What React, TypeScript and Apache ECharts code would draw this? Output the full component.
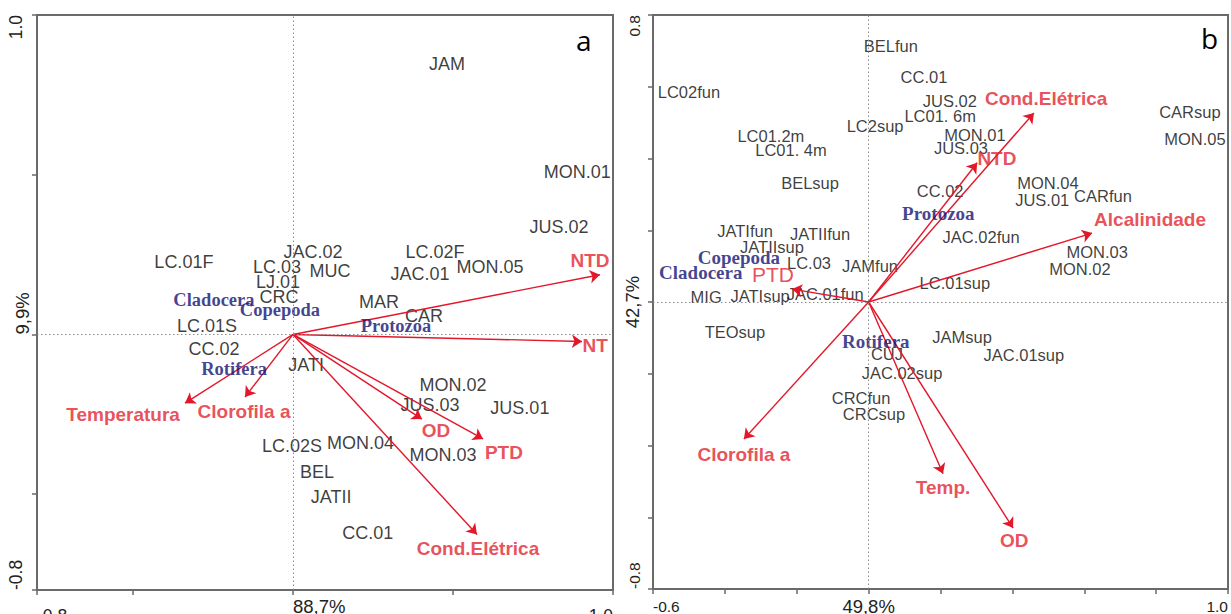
import React, { useEffect, useRef } from 'react';
import * as echarts from 'echarts';

// ---------- Panel a ----------
const sitesA: [string, number, number][] = [
  ['JAM', 0.481, 0.847],
  ['MON.01', 0.888, 0.508],
  ['JUS.02', 0.831, 0.336],
  ['LC.02F', 0.444, 0.259],
  ['JAC.01', 0.397, 0.19],
  ['MON.05', 0.616, 0.212],
  ['MAR', 0.269, 0.103],
  ['CAR', 0.409, 0.059],
  ['JAC.02', 0.0625, 0.259],
  ['MUC', 0.116, 0.199],
  ['LC.03', -0.05, 0.212],
  ['LJ.01', -0.047, 0.165],
  ['CRC', -0.044, 0.118],
  ['LC.01F', -0.341, 0.227],
  ['LC.01S', -0.269, 0.028],
  ['CC.02', -0.247, -0.047],
  ['JATI', 0.041, -0.097],
  ['MON.02', 0.5, -0.159],
  ['JUS.03', 0.428, -0.221],
  ['JUS.01', 0.709, -0.23],
  ['MON.03', 0.469, -0.377],
  ['LC.02S', -0.003, -0.349],
  ['MON.04', 0.211, -0.34],
  ['BEL', 0.075, -0.43],
  ['JATII', 0.119, -0.508],
  ['CC.01', 0.234, -0.62],
];
const speciesA: [string, number, number][] = [
  ['Cladocera', -0.247, 0.109],
  ['Copepoda', -0.041, 0.075],
  ['Protozoa', 0.322, 0.025],
  ['Rotifera', -0.184, -0.109],
];
const envA: [string, number, number][] = [
  ['NTD', 0.959, 0.187],
  ['NT', 0.903, -0.022],
  ['OD', 0.403, -0.265],
  ['PTD', 0.594, -0.327],
  ['Cond.Elétrica', 0.575, -0.626],
  ['Temperatura', -0.3375, -0.215],
  ['Clorofila a', -0.15, -0.196],
];
const envLabelAtA: [number, number][] = [
  [0.928, 0.231], [0.944, -0.034], [0.447, -0.302], [0.659, -0.371],
  [0.578, -0.67], [-0.531, -0.252], [-0.153, -0.24],
];
const xTicksA = [-0.8, -0.5, 0, 0.5, 1.0];
const yTicksA = [-0.8, -0.5, 0, 0.5, 1.0];
const xLabelValsA = [-0.8, 0, 1.0];
const xLabelTextA = ['-0.8', '88,7%', '1.0'];
const yLabelValsA = [-0.8, 0, 1.0];
const yLabelTextA = ['-0.8', '9,9%', '1.0'];

// ---------- Panel b ----------
const sitesB: [string, number, number][] = [
  ['BELfun', 0.062, 0.714],
  ['CC.01', 0.154, 0.627],
  ['LC02fun', -0.5, 0.585],
  ['JUS.02', 0.226, 0.56],
  ['LC01. 6m', 0.199, 0.518],
  ['LC2sup', 0.018, 0.49],
  ['MON.01', 0.296, 0.465],
  ['JUS.03', 0.257, 0.429],
  ['LC01.2m', -0.272, 0.463],
  ['LC01. 4m', -0.216, 0.424],
  ['BELsup', -0.163, 0.332],
  ['CC.02', 0.199, 0.309],
  ['MON.04', 0.499, 0.332],
  ['JUS.01', 0.483, 0.284],
  ['CARfun', 0.652, 0.295],
  ['CARsup', 0.894, 0.53],
  ['MON.05', 0.908, 0.454],
  ['JAC.02fun', 0.313, 0.181],
  ['MON.03', 0.636, 0.139],
  ['MON.02', 0.588, 0.092],
  ['LC.01sup', 0.24, 0.053],
  ['JATIfun', -0.344, 0.198],
  ['JATIIfun', -0.135, 0.19],
  ['JATIIsup', -0.269, 0.153],
  ['LC.03', -0.166, 0.109],
  ['JAMfun', 0.004, 0.1],
  ['MIG', -0.452, 0.014],
  ['JATIsup', -0.302, 0.017],
  ['JAC.01fun', -0.121, 0.022],
  ['TEOsup', -0.372, -0.084],
  ['JAMsup', 0.26, -0.098],
  ['JAC.01sup', 0.432, -0.148],
  ['CUJ', 0.051, -0.145],
  ['JAC.02sup', 0.093, -0.198],
  ['CRCfun', -0.021, -0.268],
  ['CRCsup', 0.015, -0.312],
];
const speciesB: [string, number, number][] = [
  ['Protozoa', 0.194, 0.248],
  ['Copepoda', -0.361, 0.123],
  ['Cladocera', -0.467, 0.081],
  ['Rotifera', 0.02, -0.111],
];
const envB: [string, number, number][] = [
  ['Cond.Elétrica', 0.46, 0.527],
  ['NTD', 0.302, 0.388],
  ['Alcalinidade', 0.622, 0.192],
  ['PTD', -0.213, 0.036],
  ['Clorofila a', -0.347, -0.382],
  ['Temp.', 0.207, -0.479],
  ['OD', 0.402, -0.63],
];
const envLabelAtB: [number, number][] = [
  [0.494, 0.566], [0.357, 0.399], [0.783, 0.229], [-0.266, 0.078],
  [-0.347, -0.424], [0.207, -0.516], [0.405, -0.666],
];
const xTicksB = [-0.6, -0.4, -0.2, 0, 0.2, 0.4, 0.6, 0.8, 1.0];
const yTicksB = [-0.8, -0.6, -0.4, -0.2, 0, 0.2, 0.4, 0.6, 0.8];
const xLabelValsB = [-0.6, 0, 1.0];
const xLabelTextB = ['-0.6', '49,8%', '1.0'];
const yLabelValsB = [-0.8, 0, 0.8];
const yLabelTextB = ['-0.8', '42,7%', '0.8'];

// ---------- styles ----------
const SANS = '"Liberation Sans", Arial, sans-serif';
const SERIF = '"Liberation Serif", "Times New Roman", serif';
const AXIS = '#6a6a6a';
const RED_LINE = '#e3162a';
const RED_TEXT = '#e3242f';
const BLUE = '#121275';
const INK = '#0a0a0a';

function pick(vals: number[], texts: string[], v: number) {
  const i = vals.findIndex((u) => Math.abs(u - v) < 1e-9);
  return i < 0 ? '' : texts[i];
}

function makeAxis(
  dim: 'x' | 'y',
  grid: number,
  min: number,
  max: number,
  ticks: number[],
  labelVals: number[],
  labelTexts: string[],
  cfg: { align: string; alignMin?: string; alignMax?: string; margin: number; edgeSize: number; pctSize: number; edgePad: number[] }
) {
  const label: any = {
    customValues: labelVals,
    formatter: (v: number) => {
      const t = pick(labelVals, labelTexts, v);
      if (!t) return '';
      return t.indexOf('%') >= 0 ? `{p|${t}}` : `{e|${t}}`;
    },
    margin: cfg.margin,
    align: cfg.align,
    color: '#222',
    fontFamily: SANS,
    rich: {
      p: { fontSize: cfg.pctSize, fontFamily: SANS, color: '#222' },
      e: { fontSize: cfg.edgeSize, fontFamily: SANS, color: '#222', padding: cfg.edgePad },
    },
  };
  if (cfg.alignMin) label.alignMinLabel = cfg.alignMin;
  if (cfg.alignMax) label.alignMaxLabel = cfg.alignMax;
  if (dim === 'y') label.rotate = 90;
  return {
    type: 'value',
    gridIndex: grid,
    min,
    max,
    axisLine: { show: true, onZero: false, lineStyle: { color: AXIS, width: 2 } },
    axisTick: { show: true, customValues: ticks, length: 5, inside: false, lineStyle: { color: AXIS, width: 1.5 } },
    splitLine: { show: false },
    axisLabel: label,
  };
}

function siteSeries(data: [string, number, number][], gi: number, size: number) {
  return {
    type: 'scatter',
    xAxisIndex: gi,
    yAxisIndex: gi,
    symbolSize: 0,
    silent: true,
    itemStyle: { color: 'rgba(0,0,0,0)' },
    data: data.map(([n, x, y]) => ({ name: n, value: [x, y] })),
    label: { show: true, position: 'inside', formatter: '{b}', color: INK, fontSize: size, fontFamily: SANS },
    markLine: {
      silent: true,
      symbol: ['none', 'none'],
      label: { show: false },
      lineStyle: { type: [1.5, 2.5], color: '#8a8a8a', width: 1 },
      data: [{ xAxis: 0 }, { yAxis: 0 }],
    },
    z: 2,
  };
}

function speciesSeries(data: [string, number, number][], gi: number, size: number) {
  return {
    type: 'scatter',
    xAxisIndex: gi,
    yAxisIndex: gi,
    symbolSize: 0,
    silent: true,
    itemStyle: { color: 'rgba(0,0,0,0)' },
    data: data.map(([n, x, y]) => ({ name: n, value: [x, y] })),
    label: { show: true, position: 'inside', formatter: '{b}', color: BLUE, fontSize: size, fontWeight: 'bold', fontFamily: SERIF },
    z: 4,
  };
}

function arrowSeries(data: [string, number, number][], gi: number) {
  return {
    type: 'lines',
    coordinateSystem: 'cartesian2d',
    xAxisIndex: gi,
    yAxisIndex: gi,
    silent: true,
    symbol: ['none', 'arrow'],
    symbolSize: 10,
    lineStyle: { color: RED_LINE, width: 1.4, opacity: 1, curveness: 0 },
    data: data.map(([, x, y]) => ({ coords: [[0, 0], [x, y]] })),
    z: 3,
  };
}

function envLabelSeries(data: [string, number, number][], at: [number, number][], gi: number, special?: Record<string, any>) {
  return {
    type: 'scatter',
    xAxisIndex: gi,
    yAxisIndex: gi,
    symbolSize: 0,
    silent: true,
    itemStyle: { color: 'rgba(0,0,0,0)' },
    data: data.map(([n], i) => {
      const item: any = { name: n, value: at[i] };
      if (special && special[n]) item.label = special[n];
      return item;
    }),
    label: { show: true, position: 'inside', formatter: '{b}', color: RED_TEXT, fontSize: 19, fontWeight: 'bold', fontFamily: SANS },
    z: 5,
  };
}

export default function App() {
  const ref = useRef<HTMLDivElement>(null);
  useEffect(() => {
    if (!ref.current) return;
    const chart = echarts.init(ref.current, null, { renderer: 'svg' });
    const option: any = {
      animation: false,
      backgroundColor: '#ffffff',
      grid: [
        { left: 37, top: 15, width: 576, height: 575, show: true, borderColor: AXIS, borderWidth: 2, backgroundColor: 'transparent', outerBoundsMode: 'none', containLabel: false },
        { left: 653, top: 15, width: 575, height: 574, show: true, borderColor: AXIS, borderWidth: 2, backgroundColor: 'transparent', outerBoundsMode: 'none', containLabel: false },
      ],
      xAxis: [
        makeAxis('x', 0, -0.8, 1.0, xTicksA, xLabelValsA, xLabelTextA, { align: 'left', alignMax: 'right', margin: 7, edgeSize: 17.5, pctSize: 18.5, edgePad: [10, 0, 0, 0] }),
        makeAxis('x', 1, -0.6, 1.0, xTicksB, xLabelValsB, xLabelTextB, { align: 'center', alignMin: 'left', alignMax: 'right', margin: 8, edgeSize: 15.5, pctSize: 18.5, edgePad: [1, 0, 0, 0] }),
      ],
      yAxis: [
        makeAxis('y', 0, -0.8, 1.0, yTicksA, yLabelValsA, yLabelTextA, { align: 'left', alignMax: 'right', margin: 5, edgeSize: 17.5, pctSize: 18.5, edgePad: [0, 0, 7, 0] }),
        makeAxis('y', 1, -0.8, 0.8, yTicksB, yLabelValsB, yLabelTextB, { align: 'center', alignMin: 'left', alignMax: 'right', margin: 11, edgeSize: 15.5, pctSize: 18.5, edgePad: [0, 0, 0, 0] }),
      ],
      series: [
        siteSeries(sitesA, 0, 18),
        arrowSeries(envA, 0),
        speciesSeries(speciesA, 0, 18.5),
        envLabelSeries(envA, envLabelAtA, 0),
        siteSeries(sitesB, 1, 16.5),
        arrowSeries(envB, 1),
        speciesSeries(speciesB, 1, 19),
        envLabelSeries(envB, envLabelAtB, 1, { PTD: { fontWeight: 'normal', fontSize: 21 } }),
      ],
      graphic: [
        { type: 'text', left: 576, top: 26, style: { text: 'a', fontSize: 28, fontFamily: '"Open Sans", sans-serif', fill: '#000' } },
        { type: 'text', left: 1201, top: 24, style: { text: 'b', fontSize: 28, fontFamily: '"Open Sans", sans-serif', fill: '#000' } },
      ],
    };
    chart.setOption(option);
    return () => chart.dispose();
  }, []);
  return (
    <div
      ref={ref}
      style={{ position: 'absolute', left: 0, top: 0, width: 1231, height: 614, background: '#fff' }}
    />
  );
}
